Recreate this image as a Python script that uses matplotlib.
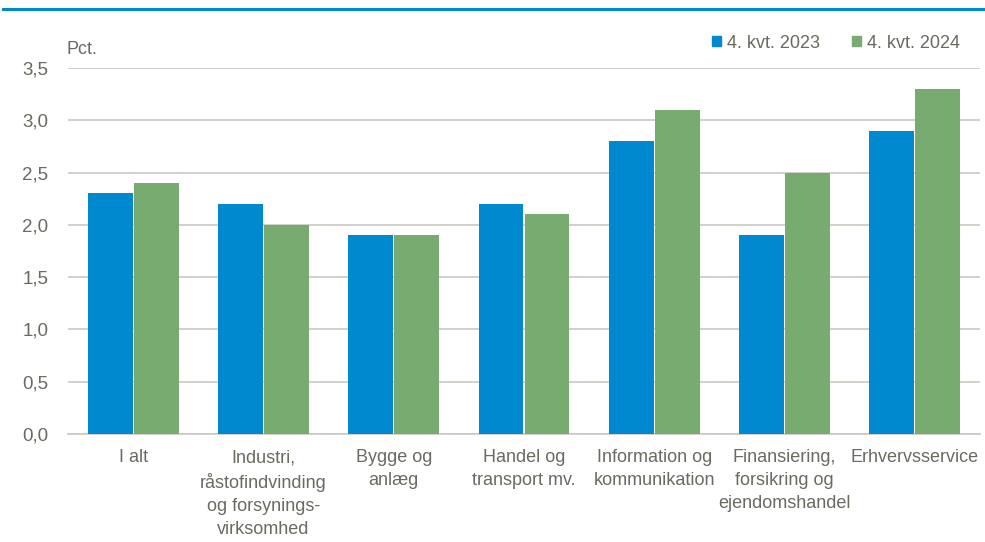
import numpy as np
import matplotlib.pyplot as plt
from matplotlib.lines import Line2D
from matplotlib.patches import Patch

categories = ["I alt", "Industri,\nråstofindvinding\nog forsynings-\nvirksomhed", "Bygge og\nanlæg",
              "Handel og\ntransport mv.", "Information og\nkommunikation",
              "Finansiering,\nforsikring og\nejendomshandel", "Erhvervsservice"]
q4_2023 = [2.3, 2.2, 1.9, 2.2, 2.8, 1.9, 2.9]
q4_2024 = [2.4, 2.0, 1.9, 2.1, 3.1, 2.5, 3.3]
yticks = [0.0, 0.5, 1.0, 1.5, 2.0, 2.5, 3.0, 3.5]

blue = "#0089CF"
green = "#77AB6F"
txt = "#6A6A60"
grid = "#C9C9C0"

plt.rcParams["font.family"] = ["Liberation Sans", "DejaVu Sans"]

fig = plt.figure(figsize=(9.85, 5.42), dpi=100)
ax = fig.add_axes([68 / 985, 1 - 434 / 542, 912 / 985, (434 - 68) / 542])

x = np.arange(len(categories))
w = 0.345
ax.bar(x - w / 2 - 0.004, q4_2023, w, color=blue, zorder=3)
ax.bar(x + w / 2 + 0.004, q4_2024, w, color=green, zorder=3)

ax.set_xlim(-0.5, len(categories) - 0.5)
ax.set_ylim(0, 3.5)
ax.set_yticks(yticks)
ax.set_yticklabels([f"{v:.1f}".replace(".", ",") for v in yticks])
ax.yaxis.grid(True, color=grid, linewidth=1.2, zorder=0)
ax.set_xticks(x)
ax.set_xticklabels(categories, linespacing=1.45)
ax.tick_params(axis="y", length=0, pad=14, labelsize=13.5, labelcolor=txt)
ax.tick_params(axis="x", length=0, pad=11, labelsize=13, labelcolor=txt)
for s in ["top", "right", "left"]:
    ax.spines[s].set_visible(False)
ax.spines["bottom"].set_color(grid)
ax.spines["bottom"].set_linewidth(1.2)

fig.text(66 / 985, 1 - 50 / 542, "Pct.", fontsize=13, color=txt, va="center")

handles = [Patch(color=blue), Patch(color=green)]
leg = fig.legend(handles, ["4. kvt. 2023", "4. kvt. 2024"], loc="center right",
                 bbox_to_anchor=(976 / 985, 1 - 43 / 542), ncol=2, frameon=False,
                 fontsize=13, handlelength=0.5, handleheight=0.5, handletextpad=0.3,
                 columnspacing=1.8, labelcolor=txt)

fig.add_artist(Line2D([3 / 985, 1], [1 - 9 / 542, 1 - 9 / 542], color=blue, linewidth=2.2))

fig.savefig("out.png", dpi=100)
